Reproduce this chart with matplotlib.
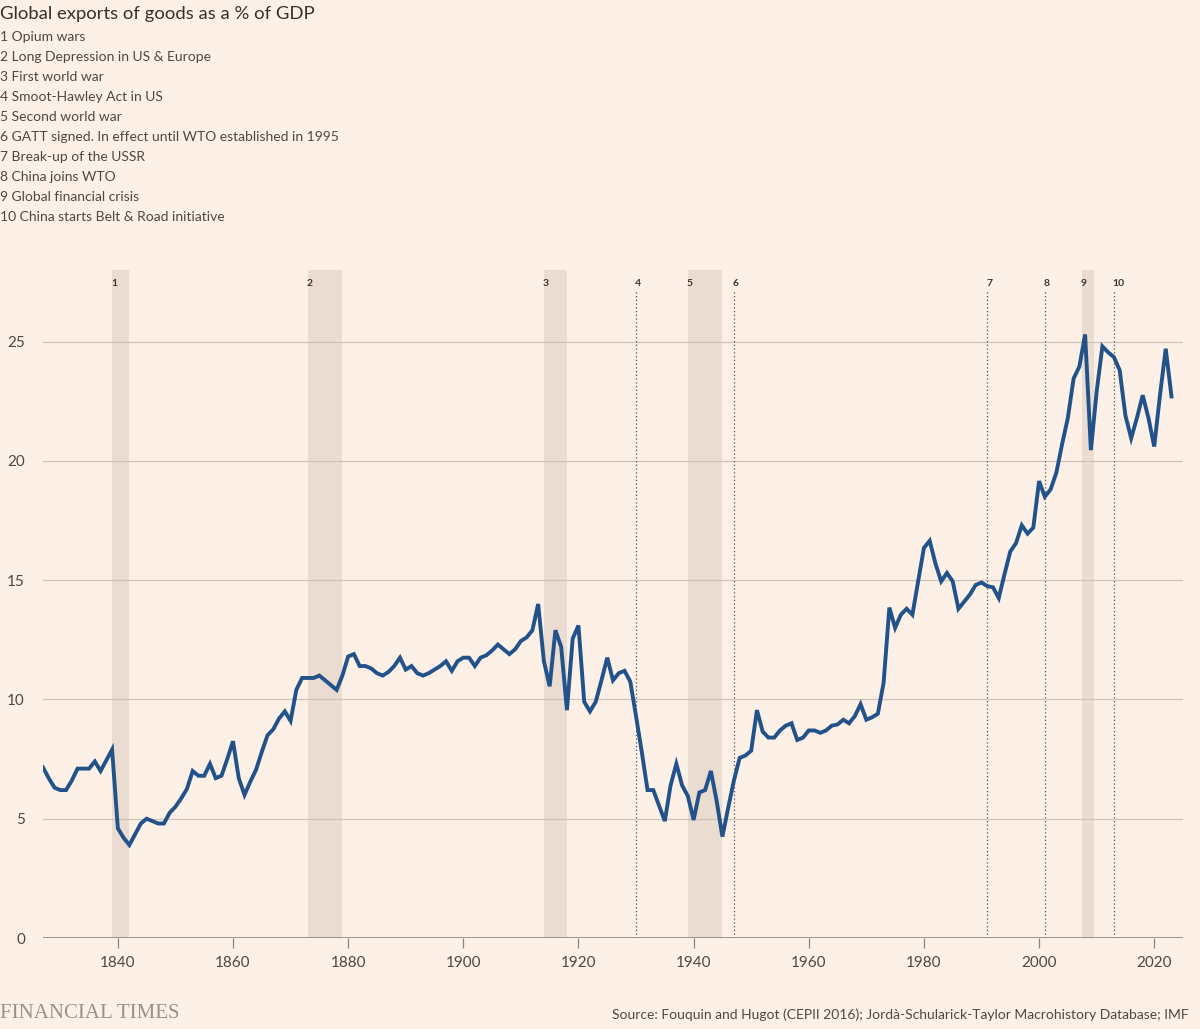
import numpy as np
import matplotlib
matplotlib.use("Agg")
from matplotlib import pyplot as plt

# exports of goods as % of world GDP, one value per year from 1827
start_year = 1827
exports_pct = [
    7.15, 6.7, 6.3, 6.2, 6.2, 6.6, 7.1, 7.1, 7.1, 7.4, 7.0, 7.45, 7.9,   # 1827-1839
    4.6, 4.2, 3.9, 4.35, 4.8, 5.0, 4.9, 4.8, 4.8, 5.25,                  # 1840s
    5.5, 5.85, 6.25, 7.0, 6.8, 6.8, 7.3, 6.7, 6.8, 7.5,                  # 1850s
    8.25, 6.7, 6.0, 6.55, 7.05, 7.8, 8.5, 8.75, 9.2, 9.5,                # 1860s
    9.1, 10.4, 10.9, 10.9, 10.9, 11.0, 10.8, 10.6, 10.4, 11.0,           # 1870s
    11.8, 11.9, 11.4, 11.4, 11.3, 11.1, 11.0, 11.15, 11.4, 11.75,        # 1880s
    11.25, 11.4, 11.1, 11.0, 11.1, 11.25, 11.4, 11.6, 11.2, 11.6,        # 1890s
    11.75, 11.75, 11.4, 11.75, 11.85, 12.05, 12.3, 12.1, 11.9, 12.1,     # 1900s
    12.45, 12.6, 12.9, 14.0, 11.6, 10.55, 12.9, 12.2, 9.55, 12.55,       # 1910s
    13.1, 9.9, 9.5, 9.9, 10.8, 11.75, 10.8, 11.1, 11.2, 10.75,           # 1920s
    9.3, 7.8, 6.2, 6.2, 5.55, 4.9, 6.4, 7.3, 6.4, 5.95,                  # 1930s
    4.95, 6.1, 6.2, 7.0, 5.75, 4.25, 5.45, 6.6, 7.55, 7.65,              # 1940s
    7.85, 9.55, 8.65, 8.4, 8.4, 8.7, 8.9, 9.0, 8.3, 8.4,                 # 1950s
    8.7, 8.7, 8.6, 8.7, 8.9, 8.95, 9.15, 9.0, 9.3, 9.8,                  # 1960s
    9.15, 9.25, 9.4, 10.7, 13.85, 13.0, 13.55, 13.8, 13.55, 14.95,       # 1970s
    16.35, 16.65, 15.7, 14.95, 15.3, 14.95, 13.8, 14.1, 14.4, 14.8,      # 1980s
    14.9, 14.75, 14.7, 14.25, 15.25, 16.2, 16.55, 17.3, 16.95, 17.2,     # 1990s
    19.15, 18.5, 18.8, 19.5, 20.7, 21.8, 23.45, 23.95, 25.3, 20.45,      # 2000s
    22.9, 24.8, 24.55, 24.35, 23.8, 21.9, 20.95, 21.8, 22.75, 21.8,      # 2010s
    20.6, 22.75, 24.7, 22.7,                                             # 2020-2023
]
years = np.arange(start_year, start_year + len(exports_pct))

# shaded periods and single-year events
band_labels = ["1", "2", "3", "5", "9"]
band_start = [1839, 1873, 1914, 1939, 2007.5]
band_end = [1842, 1879, 1918, 1945, 2009.5]
line_labels = ["4", "6", "7", "8", "10"]
line_years = [1930, 1947, 1991, 2001, 2013]

notes = [
    "1 Opium wars",
    "2 Long Depression in US & Europe",
    "3 First world war",
    "4 Smoot-Hawley Act in US",
    "5 Second world war",
    "6 GATT signed. In effect until WTO established in 1995",
    "7 Break-up of the USSR",
    "8 China joins WTO",
    "9 Global financial crisis",
    "10 China starts Belt & Road initiative",
]

bg = "#fdf0e6"
text_col = "#4d4845"
plt.rcParams["font.family"] = ["Lato", "DejaVu Sans"]

fig = plt.figure(figsize=(12, 10.29), dpi=100, facecolor=bg)
ax = fig.add_axes([43 / 1200, 1 - 938 / 1029, 1140 / 1200, 668 / 1029])
ax.set_facecolor(bg)

for lab, s, e in zip(band_labels, band_start, band_end):
    ax.axvspan(s, e, color="#ebdcd1", lw=0, zorder=0)
    ax.text(s - 0.2, 27.45, lab, fontsize=7.5, color="#3a3633", ha="left", va="center",
            fontweight="bold")
for lab, yr in zip(line_labels, line_years):
    ax.axvline(yr, color="#555050", lw=0.9, ls=(0, (1, 2)), ymax=27.1 / 28, zorder=1)
    ax.text(yr - 0.2, 27.45, lab, fontsize=7.5, color="#3a3633", ha="left", va="center",
            fontweight="bold")

ax.plot(years, exports_pct, color="#22528a", lw=2.8, solid_joinstyle="miter", zorder=3)

ax.set_xlim(1827, 2025)
ax.set_ylim(0, 28)
ax.set_yticks([0, 5, 10, 15, 20, 25])
ax.set_xticks(range(1840, 2021, 20))
ax.yaxis.grid(True, color="#cfc2b8", lw=0.9)
ax.set_axisbelow(True)
for sp in ax.spines.values():
    sp.set_visible(False)
ax.axhline(0, color="#8c8480", lw=1.2, zorder=2)
ax.tick_params(axis="y", length=0, pad=13, labelsize=11, labelcolor=text_col)
ax.tick_params(axis="x", length=7, width=0.9, color="#8c8480", pad=6,
               labelsize=11, labelcolor=text_col)

fig.text(0.0, 1 - 14 / 1029, "Global exports of goods as a % of GDP", fontsize=13.3,
         color="#33302e", va="center", ha="left")
for i, n in enumerate(notes):
    fig.text(0.0, 1 - (37 + 20 * i) / 1029, n, fontsize=10, color=text_col,
             va="center", ha="left")

fig.text(0.0, 1 - 1013 / 1029, "FINANCIAL TIMES", fontsize=15, color="#9a918b",
         family="Liberation Serif", va="center", ha="left")
fig.text(612 / 1200, 1 - 1015 / 1029,
         "Source: Fouquin and Hugot (CEPII 2016); Jordà-Schularick-Taylor Macrohistory Database; IMF",
         fontsize=10, color=text_col, va="center", ha="left")

fig.savefig("out.png", dpi=100, facecolor=bg)
